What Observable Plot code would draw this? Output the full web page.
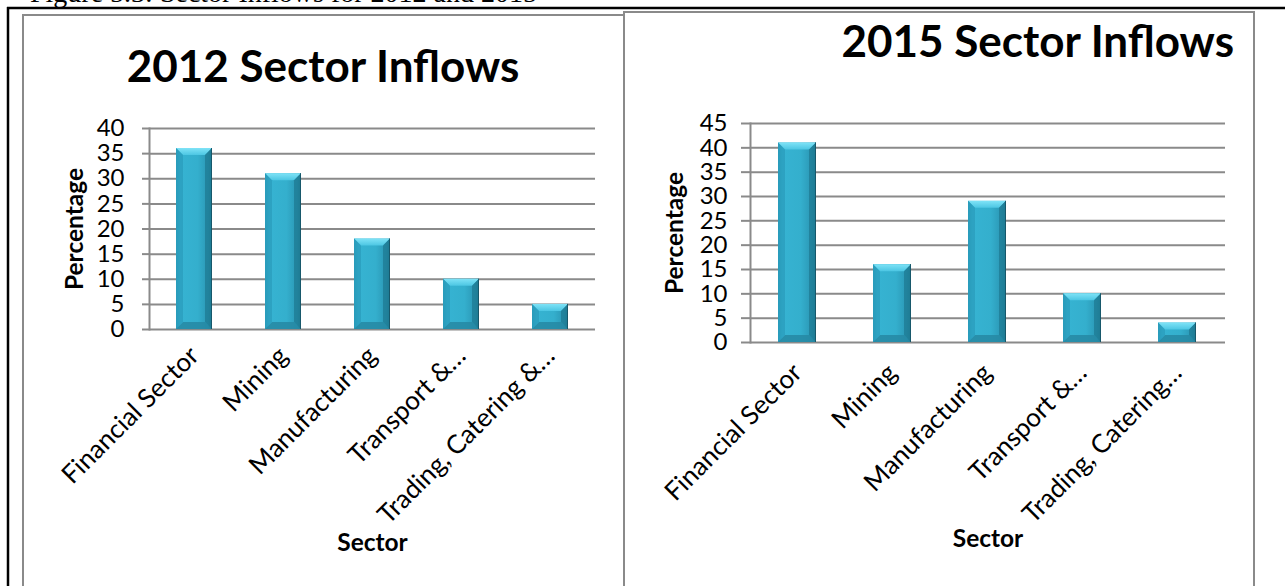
<!DOCTYPE html>
<html><head><meta charset="utf-8">
<script src="https://cdn.jsdelivr.net/npm/d3@7"></script>
<script src="https://cdn.jsdelivr.net/npm/@observablehq/plot@0.6"></script>
<style>
body{margin:0;background:#fff;}
#page{position:relative;width:1285px;height:586px;overflow:hidden;background:#fff;font-family:Lato,"Open Sans",sans-serif;}
.chart{position:absolute;}
#overlay{position:absolute;left:0;top:0;pointer-events:none;z-index:5;}
</style></head><body><div id="page"></div>
<script>
// ---- data ----
const caption = "Figure 5.3: Sector Inflows for 2012 and 2015";
const title2012 = "2012 Sector Inflows";
const title2015 = "2015 Sector Inflows";
const sectors2012 = ["Financial Sector", "Mining", "Manufacturing", "Transport &…", "Trading, Catering &…"];
const values2012 = [36, 31, 18, 10, 5];
const sectors2015 = ["Financial Sector", "Mining", "Manufacturing", "Transport &…", "Trading, Catering…"];
const values2015 = [41, 16, 29, 10, 4];
const yTicks2012 = [0, 5, 10, 15, 20, 25, 30, 35, 40];
const yTicks2015 = [0, 5, 10, 15, 20, 25, 30, 35, 40, 45];
const yLabel = "Percentage";
const xLabel = "Sector";

const page = document.getElementById("page");
const NS = "http://www.w3.org/2000/svg";
const GRID = "#8a8a8a";

function el(tag, attrs, parent) {
  const e = document.createElementNS(NS, tag);
  for (const k in attrs) e.setAttribute(k, attrs[k]);
  if (parent) parent.appendChild(e);
  return e;
}

function bevelBars(svg, id) {
  const defs = el("defs", {}, null);
  svg.insertBefore(defs, svg.firstChild);
  const gb = el("linearGradient", {id: id + "body", x1: 0, x2: 1, y1: 0, y2: 0}, defs);
  [["0%", "#2a9ab9"], ["12%", "#36b3d2"], ["60%", "#34afcd"], ["88%", "#2b98b6"], ["100%", "#1b6f87"]]
    .forEach(([o, c]) => el("stop", {offset: o, "stop-color": c}, gb));
  const gt = el("linearGradient", {id: id + "top", x1: 0, x2: 0, y1: 0, y2: 1}, defs);
  [["0%", "#7fe3f7"], ["100%", "#4cc6e3"]].forEach(([o, c]) => el("stop", {offset: o, "stop-color": c}, gt));
  const g = svg.querySelector('g[aria-label="bar"]');
  if (!g) return;
  g.querySelectorAll("rect").forEach(r => {
    const x = +r.getAttribute("x"), y = +r.getAttribute("y");
    const w = +r.getAttribute("width"), h = +r.getAttribute("height");
    r.setAttribute("fill", `url(#${id}body)`);
    const b = Math.min(7, h / 2.5);
    el("polygon", {points: `${x},${y} ${x + w},${y} ${x + w - b},${y + b} ${x + b},${y + b}`, fill: `url(#${id}top)`}, g);
    el("polygon", {points: `${x + b},${y + h - b} ${x + w - b},${y + h - b} ${x + w},${y + h} ${x},${y + h}`, fill: "#2688a3", "fill-opacity": 0.85}, g);
    el("polygon", {points: `${x + w - b},${y + b} ${x + w},${y} ${x + w},${y + h} ${x + w - b},${y + h - b}`, fill: "#1f7d96", "fill-opacity": 0.8}, g);
    el("polygon", {points: `${x},${y} ${x + b},${y + b} ${x + b},${y + h - b} ${x},${y + h}`, fill: "#2a9bba", "fill-opacity": 0.7}, g);
    el("line", {x1: x + w - 0.5, x2: x + w - 0.5, y1: y, y2: y + h, stroke: "#17586b", "stroke-width": 1}, g);
  });
}

function makeChart(o) {
  const data = o.sectors.map((s, i) => ({sector: s, value: o.values[i]}));
  const svg = Plot.plot({
    width: o.width, height: o.height,
    marginLeft: o.ml, marginRight: o.mr, marginTop: o.mt, marginBottom: o.mb,
    style: {fontFamily: "Lato, 'Open Sans', sans-serif", fontSize: "24px", color: "#000", background: "transparent", overflow: "visible"},
    x: {domain: o.sectors, paddingInner: 0.6, paddingOuter: 0.3, label: null},
    y: {domain: [0, o.yMax], label: null},
    marks: [
      Plot.gridY(o.ticks, {stroke: GRID, strokeOpacity: 1, strokeWidth: 2}),
      Plot.frame({anchor: "left", stroke: GRID, strokeWidth: 2}),
      Plot.axisY(o.ticks, {tickSize: o.tickSize, tickPadding: o.tickPadding, stroke: GRID, strokeWidth: 2, fontSize: 24, label: null, tickFormat: d => String(d)}),
      Plot.axisX({tickSize: 0, tickRotate: -45, tickPadding: o.xPad, fontSize: 26, label: null}),
      Plot.barY(data, {x: "sector", y: "value", fill: "#33aecb"}),
      Plot.text([yLabel], {text: d => d, frameAnchor: "left", textAnchor: "middle", lineAnchor: "middle", dx: o.yLabelDx, rotate: -90, fontWeight: "bold", fontSize: 24.5}),
      Plot.text([xLabel], {text: d => d, frameAnchor: "bottom", textAnchor: "middle", lineAnchor: "middle", dy: o.xLabelDy, fontWeight: "bold", fontSize: 24.5})
    ]
  });
  bevelBars(svg, o.id);
  const wrap = document.createElement("div");
  wrap.className = "chart";
  wrap.style.left = o.left + "px";
  wrap.style.top = o.top + "px";
  wrap.appendChild(svg);
  page.appendChild(wrap);
}

makeChart({id: "c12", sectors: sectors2012, values: values2012, ticks: yTicks2012, yMax: 40,
  left: 23, top: 90, width: 601, height: 496, ml: 126, mr: 29, mt: 38, mb: 257,
  tickSize: 7, tickPadding: 18, xPad: 22, yLabelDx: -74, xLabelDy: 214});
makeChart({id: "c15", sectors: sectors2015, values: values2015, ticks: yTicks2015, yMax: 45,
  left: 624, top: 85, width: 630, height: 501, ml: 126, mr: 29, mt: 38, mb: 244,
  tickSize: 9, tickPadding: 14, xPad: 26, yLabelDx: -75, xLabelDy: 197});

// ---- overlay: page frame, chart boxes, titles, caption ----
const ov = el("svg", {id: "overlay", width: 1285, height: 586, viewBox: "0 0 1285 586"}, null);
page.appendChild(ov);
const cap = el("text", {x: 30, y: 2, "font-family": "'Liberation Serif','Times New Roman',serif", "font-size": 28, fill: "#000"}, ov);
cap.textContent = caption;
el("line", {x1: 7, x2: 1285, y1: 8, y2: 8, stroke: "#000", "stroke-width": 2.5}, ov);
el("line", {x1: 8, x2: 8, y1: 7, y2: 586, stroke: "#000", "stroke-width": 2.5}, ov);
el("path", {d: "M23,590 V15 H624 V590", fill: "none", stroke: GRID, "stroke-width": 2}, ov);
el("path", {d: "M624,590 V12 H1254 V590", fill: "none", stroke: GRID, "stroke-width": 2}, ov);
const t1 = el("text", {x: 323, y: 82, "text-anchor": "middle", "font-family": "Lato, 'Open Sans', sans-serif", "font-weight": "bold", "font-size": 44, fill: "#000"}, ov);
t1.textContent = title2012;
const t2 = el("text", {x: 1234, y: 57, "text-anchor": "end", "font-family": "Lato, 'Open Sans', sans-serif", "font-weight": "bold", "font-size": 44, fill: "#000"}, ov);
t2.textContent = title2015;
</script></body></html>
